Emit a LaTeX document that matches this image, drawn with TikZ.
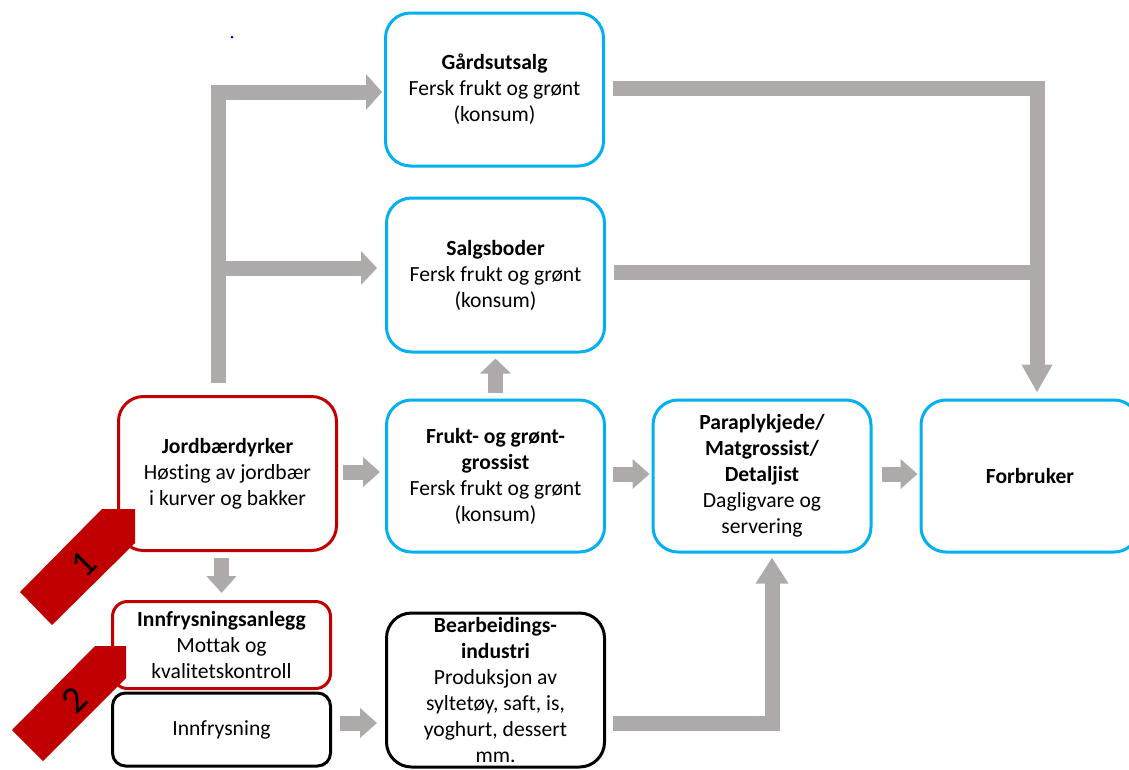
\documentclass[tikz,border=0pt]{standalone}
\usepackage{fontspec}
\setmainfont{Carlito}[Ligatures=CommonOff]
\usetikzlibrary{arrows.meta,calc}
\definecolor{cblue}{HTML}{00B0F0}
\definecolor{cred}{HTML}{C00000}
\definecolor{cgray}{HTML}{AEAAAA}
\tikzset{
  box/.style={draw, line width=3pt, fill=white, align=center, inner sep=0pt,
    minimum width=218pt, minimum height=153pt, rounded corners=25pt,
    font=\fontsize{21.6}{26}\selectfont},
  bluebox/.style={box, draw=cblue},
  redbox/.style={box, draw=cred},
  blackbox/.style={box, draw=black},
  flowline/.style={draw=cgray, line width=15pt, line join=miter},
  flow/.style={flowline, -{Triangle[length=17pt,width=29pt]}},
  tag/.style={fill=cred},
  taglabel/.style={rotate=45, font=\fontsize{38}{40}\selectfont, inner sep=0pt}
}
\begin{document}
\begin{tikzpicture}[x=1pt,y=-1pt]
\useasboundingbox (0,0) rectangle (1129,769);
\clip (0,0) rectangle (1129,769);
\fill[white] (0,0) rectangle (1129,769);
\fill[blue] (232,37) circle (1.5);

% nodes
\node[bluebox] (gard) at (494.5,89.5) {\textbf{Gårdsutsalg}\\Fersk frukt og grønt\\(konsum)};
\node[bluebox, minimum height=154pt] (salg) at (495.5,275) {\textbf{Salgsboder}\\Fersk frukt og grønt\\(konsum)};
\node[redbox, minimum height=154pt] (jord) at (227.5,473.5) {\textbf{Jordbærdyrker}\\Høsting av jordbær\\i kurver og bakker};
\node[bluebox, minimum height=152pt] (frukt) at (495.5,476) {\textbf{Frukt- og grønt-}\\\textbf{grossist}\\Fersk frukt og grønt\\(konsum)};
\node[bluebox, minimum height=152pt] (para) at (762,476) {\textbf{Paraplykjede/}\\\textbf{Matgrossist/}\\\textbf{Detaljist}\\Dagligvare og\\servering};
\node[bluebox, minimum height=152pt] (forb) at (1030,476) {\textbf{Forbruker}};
\node[redbox, minimum height=87pt, rounded corners=15pt] (inna) at (221.5,645) {\textbf{Innfrysningsanlegg}\\Mottak og\\kvalitetskontroll};
\node[blackbox, minimum height=73pt, rounded corners=13pt] (innf) at (221.5,729.5) {Innfrysning};
\node[blackbox, minimum height=154pt] (bearb) at (495.5,690) {\textbf{Bearbeidings-}\\\textbf{industri}\\Produksjon av\\syltetøy, saft, is,\\yoghurt, dessert\\mm.};

% connectors
\coordinate (v) at ($(jord.north)+(-9,-12)$);
\draw[flowline, -{Triangle[length=16pt,width=35pt]}] (v) |- ($(gard.west)+(-2,2.5)$);
\draw[flowline, -{Triangle[length=16pt,width=33pt]}] ($(salg.west -| v)+(0,-7)$) -- ($(salg.west)+(-8,-7)$);
\draw[flow, -{Triangle[length=15pt,width=30pt]}] ($(frukt.north)+(0,-6)$) -- ($(salg.south)+(0,5)$);
\draw[flowline, -{Triangle[length=28pt,width=29pt]}] ($(gard.east)+(8,-1.5)$) -| ($(forb.north)+(7,-6)$);
\draw[flowline] ($(salg.east)+(8,-3)$) -- ($(salg.east -| forb.north)+(7,-3)$);
\draw[flow] ($(jord.east)+(5,-1.5)$) -- ($(jord.east -| frukt.west)+(-5,-1.5)$);
\draw[flow] ($(frukt.east)+(7,-2)$) -- ($(para.west)+(-2,-2)$);
\draw[flow] ($(para.east)+(9,-2)$) -- ($(forb.west)+(-2,-2)$);
\draw[flow] ($(jord.south -| inna.north)+(0,6)$) -- ($(inna.north)+(0,-7)$);
\draw[flow] ($(innf.east)+(8,-6.5)$) -- ($(innf.east -| bearb.west)+(-8,-6.5)$);
\draw[flowline, -{Triangle[length=26pt,width=31pt]}] ($(bearb.east)+(7,33)$) -| ($(para.south)+(10,4)$);

% red tags
\fill[tag] (135,509) -- (102,509) -- (20,592) -- (52,625) -- (135,543) -- cycle;
\node[taglabel] (t1) at (84,564) {1};
\fill[tag] (126,646) -- (95,646) -- (12,730) -- (43,761) -- (126,678) -- cycle;
\node[taglabel] (t2) at (75,700) {2};
\end{tikzpicture}
\end{document}
